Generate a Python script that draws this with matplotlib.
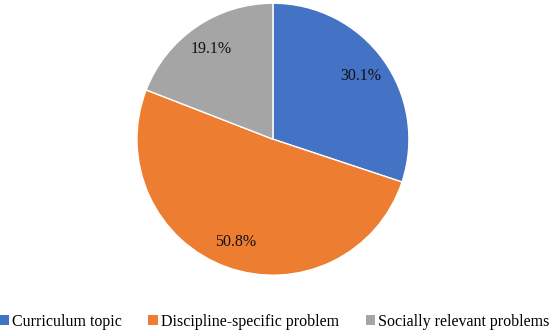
import matplotlib
matplotlib.use("Agg")
from matplotlib import pyplot as plt
from matplotlib.patches import Patch

categories = ["Curriculum topic", "Discipline-specific problem", "Socially relevant problems"]
shares = [30.1, 50.8, 19.1]
colors = ["#4472C4", "#ED7D31", "#A5A5A5"]

plt.rcParams["font.family"] = ["Liberation Serif", "DejaVu Serif"]

fig = plt.figure(figsize=(5.5, 3.36), dpi=100)
ax = fig.add_axes([0.249, 0.181, 0.4945, 0.8095])

ax.pie(
    shares,
    colors=colors,
    startangle=90,
    counterclock=False,
    autopct=lambda p: f"{p:.1f}%",
    pctdistance=0.8,
    wedgeprops={"edgecolor": "white", "linewidth": 1},
    textprops={"fontsize": 11.5, "color": "#111111"},
)
ax.set_xlim(-1.0, 1.0)
ax.set_ylim(-1.0, 1.0)
ax.set_aspect("equal")

handles = [Patch(facecolor=c, edgecolor="none") for c in colors]
fig.legend(
    handles, categories,
    loc="lower center", bbox_to_anchor=(0.499, -0.025), ncol=3,
    frameon=False, fontsize=11.5,
    handlelength=0.6, handleheight=0.6, handletextpad=0.2, columnspacing=1.65,
)

fig.savefig("out.png", dpi=100)
